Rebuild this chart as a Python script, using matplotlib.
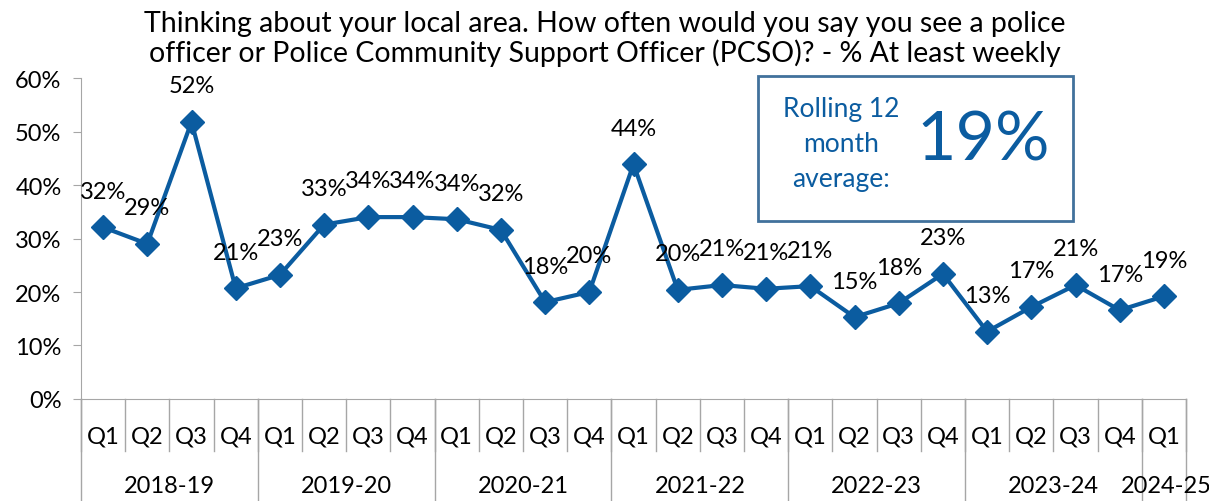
import numpy as np
import matplotlib.pyplot as plt
import matplotlib.transforms as mtransforms

plt.rcParams['font.family'] = ['Lato', 'DejaVu Sans']

years = ["2018-19", "2019-20", "2020-21", "2021-22", "2022-23", "2023-24", "2024-25"]
quarters_per_year = [4, 4, 4, 4, 4, 4, 1]
quarters = ["Q1", "Q2", "Q3", "Q4"] * 6 + ["Q1"]
values = [32.1, 29.0, 51.8, 20.7, 23.2, 32.6, 34.0, 34.0, 33.6, 31.6, 18.1, 20.0,
          43.9, 20.4, 21.3, 20.6, 21.1, 15.3, 17.9, 23.4, 12.6, 17.2, 21.3, 16.6, 19.2]
labels = ["32%", "29%", "52%", "21%", "23%", "33%", "34%", "34%", "34%", "32%", "18%", "20%",
          "44%", "20%", "21%", "21%", "21%", "15%", "18%", "23%", "13%", "17%", "21%", "17%", "19%"]
rolling_avg = "19%"

blue = "#0B5CA0"
grey = "#A6A6A6"

fig = plt.figure(figsize=(12.09, 5.02), dpi=100)
ax = fig.add_axes([0.067, 0.2032, 0.914, 0.6394])

x = np.arange(len(values))
ax.plot(x, values, color=blue, lw=3, marker="D", markersize=12.5, zorder=3, clip_on=False)
for xi, v, lab in zip(x, values, labels):
    ax.annotate(lab, (xi, v), xytext=(0, 26), textcoords="offset points",
                ha="center", va="center", fontsize=17)

ax.set_xlim(-0.5, len(values) - 0.5)
ax.set_ylim(0, 60)
ax.set_yticks(range(0, 61, 10))
ax.set_yticklabels([f"{t}%" for t in range(0, 61, 10)], fontsize=17)
ax.tick_params(axis="y", length=6, color=grey, pad=8)
ax.set_xticks([])
for s in ["top", "right"]:
    ax.spines[s].set_visible(False)
ax.spines["left"].set_color(grey)
ax.spines["bottom"].set_color(grey)

# category axis: quarters and year groups
trans = mtransforms.blended_transform_factory(ax.transData, ax.transAxes)
axes_h_px = 0.6394 * 502
for xi, q in enumerate(quarters):
    ax.text(xi, -37 / axes_h_px, q, transform=trans, ha="center", va="center", fontsize=17)
for b in range(len(values) + 1):
    ax.plot([b - 0.5, b - 0.5], [0, -52 / axes_h_px], transform=trans, color=grey,
            lw=1, clip_on=False)
start = 0
bounds = [0]
for yr, n in zip(years, quarters_per_year):
    centre = start + n / 2 - 0.5
    if n == 1:
        centre = start + 0.05
    ax.text(centre, -87 / axes_h_px, yr, transform=trans, ha="center", va="center", fontsize=17)
    start += n
    bounds.append(start)
for b in bounds:
    ax.plot([b - 0.5, b - 0.5], [0, -102 / axes_h_px], transform=trans, color=grey,
            lw=1, clip_on=False)

fig.text(0.5, 1 - 39 / 502, "Thinking about your local area. How often would you say you see a police\n"
         "officer or Police Community Support Officer (PCSO)? - % At least weekly",
         ha="center", va="center", fontsize=20.5, linespacing=1.1)

# rolling average box
bx0, by0, bw, bh = 758 / 1209, 1 - 222 / 502, 315 / 1209, 145 / 502
fig.patches.append(plt.Rectangle((bx0, by0), bw, bh, transform=fig.transFigure,
                                 fill=False, edgecolor="#41719C", lw=2))
fig.text(841 / 1209, 1 - 145 / 502, "Rolling 12\nmonth\naverage:", ha="center", va="center",
         fontsize=19, color=blue, linespacing=1.5)
fig.text(983 / 1209, 1 - 142 / 502, rolling_avg, ha="center", va="center",
         fontsize=49, color=blue)

fig.savefig("out.png", dpi=100)
